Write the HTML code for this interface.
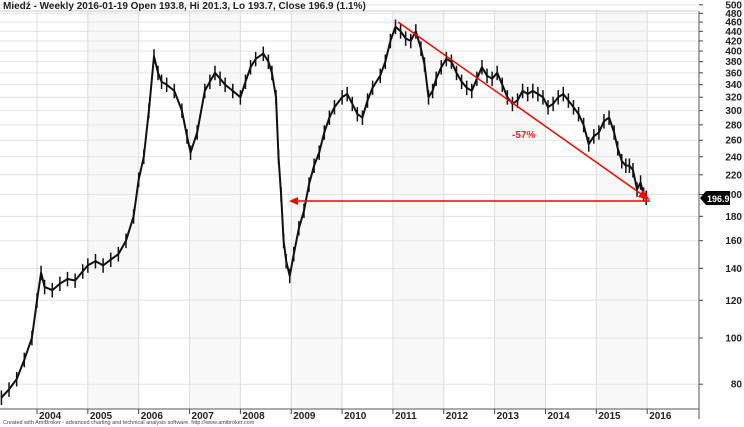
<!DOCTYPE html>
<html><head><meta charset="utf-8"><style>
body{margin:0;background:#fff;}
svg{display:block;font-family:"Liberation Sans",Arial,sans-serif;}
</style></head><body>
<svg id="c" width="744" height="427"></svg>
<script>
const tickValues=[80,100,120,140,160,180,200,220,240,260,280,300,320,340,360,380,400,420,440,460,480,500];
const years=[2004,2005,2006,2007,2008,2009,2010,2011,2012,2013,2014,2015,2016];
const times=[2003.3,2003.45,2003.6,2003.75,2003.9,2004.0,2004.08,2004.15,2004.3,2004.45,2004.6,2004.75,2004.9,2005.0,2005.15,2005.3,2005.45,2005.6,2005.75,2005.9,2006.0,2006.1,2006.2,2006.3,2006.38,2006.45,2006.55,2006.7,2006.85,2006.95,2007.02,2007.15,2007.3,2007.4,2007.5,2007.6,2007.7,2007.85,2008.0,2008.1,2008.2,2008.3,2008.45,2008.55,2008.62,2008.7,2008.75,2008.8,2008.85,2008.9,2008.97,2009.05,2009.15,2009.25,2009.35,2009.45,2009.55,2009.65,2009.75,2009.85,2010.0,2010.1,2010.2,2010.3,2010.4,2010.5,2010.6,2010.75,2010.85,2010.95,2011.05,2011.15,2011.25,2011.35,2011.45,2011.55,2011.62,2011.7,2011.78,2011.85,2011.95,2012.05,2012.15,2012.25,2012.35,2012.45,2012.55,2012.65,2012.75,2012.85,2012.95,2013.05,2013.15,2013.25,2013.35,2013.45,2013.55,2013.65,2013.75,2013.85,2013.95,2014.05,2014.15,2014.25,2014.35,2014.45,2014.55,2014.65,2014.75,2014.85,2014.95,2015.05,2015.15,2015.25,2015.35,2015.42,2015.5,2015.58,2015.65,2015.72,2015.8,2015.87,2015.93,2015.98,2016.03,2016.05];
const closes=[75,78,82,90,100,120,137,128,126,130,133,132,138,142,145,142,146,150,160,180,215,240,300,390,360,345,340,330,300,265,245,270,330,345,360,350,340,330,320,345,370,385,395,380,360,320,240,200,160,145,135,150,170,185,210,230,245,270,290,305,320,325,310,295,290,315,335,355,380,420,450,440,425,420,440,405,375,320,330,350,370,385,380,360,345,335,330,350,370,355,350,360,340,320,310,315,330,325,330,325,320,305,310,320,325,315,305,295,280,255,265,270,285,290,270,250,235,230,230,225,205,212,200,197];
const highs=closes.map(v=>v*1.035);
const lows=closes.map(v=>v*0.965);

const NS="http://www.w3.org/2000/svg";
const svg=document.getElementById('c');
function yS(v){return 338-207*Math.log(v/100);}
function xS(t){return 37+(t-2004)*50.85;}
function el(tag,attrs){const e=document.createElementNS(NS,tag);for(const k in attrs)e.setAttribute(k,attrs[k]);svg.appendChild(e);return e;}
const L=0,R=699,T=11,B=409;
for(let i=0;i<years.length;i++){
  if(years[i]%2===1){
    const b=el('rect',{x:xS(years[i]),y:T,width:Math.min(xS(years[i]+1),R)-xS(years[i]),height:B-T,fill:'#f8f8f8'});
    
    
  }
}
tickValues.forEach(v=>{
  const g=el('line',{x1:L,x2:R,y1:yS(v),y2:yS(v),stroke:'#e4e4e4','stroke-width':1});
  
  
  el('line',{x1:R,x2:R+4,y1:yS(v),y2:yS(v),stroke:'#444'});
  const t=el('text',{x:742,y:yS(v)+3.5,'font-size':10,'font-weight':'bold','text-anchor':'end',fill:'#222'});
  t.textContent=v;
  
  
});
years.forEach(y=>{
  const x=xS(y);
  const g=el('line',{x1:x,x2:x,y1:T,y2:B,stroke:'#dcdcdc'});
  
  
  el('line',{x1:x,x2:x,y1:B,y2:B+5,stroke:'#444'});
  const t=el('text',{x:x+2,y:B+10,'font-size':10,'font-weight':'bold',fill:'#222'});
  t.textContent=y;
  
  
});
el('line',{x1:R,x2:R,y1:T,y2:B+10,stroke:'#555'});
el('line',{x1:0,x2:R,y1:B,y2:B,stroke:'#555'});
el('line',{x1:0,x2:R,y1:T,y2:T,stroke:'#ccc'});
let d='';
closes.forEach((v,i)=>{d+=(i?'L':'M')+xS(times[i]).toFixed(1)+','+yS(v).toFixed(1);});
const p=el('path',{d:d,fill:'none',stroke:'#111','stroke-width':2,'stroke-linejoin':'round'});


closes.forEach((v,i)=>{
  const w=el('line',{x1:xS(times[i]),x2:xS(times[i]),y1:yS(highs[i]),y2:yS(lows[i]),stroke:'#111','stroke-width':1.5});
  
  
});
const dg=el('line',{x1:398,y1:22,x2:644,y2:196,stroke:'#f00','stroke-width':1.5});


el('polygon',{points:'650,200 638,197 643,190',fill:'#f00'});
const hz=el('line',{x1:296,y1:201,x2:650,y2:201,stroke:'#f00','stroke-width':1.5});


el('polygon',{points:'289,201 298,197 298,205',fill:'#f00'});
const pc=el('text',{x:512,y:138,'font-size':10,fill:'#f22','font-weight':'bold'});
pc.textContent='-57%';


const tag=el('polygon',{points:'700,198 706,191 730,191 730,205 706,205',fill:'#000'});


const pt=el('text',{x:707,y:202,'font-size':9,'font-weight':'bold',fill:'#fff'});
pt.textContent='196.9';


const tt=el('text',{x:3,y:9,'font-size':10,'font-weight':'bold',fill:'#222'});
tt.textContent='Miedź - Weekly 2016-01-19 Open 193.8, Hi 201.3, Lo 193.7, Close 196.9 (1.1%)';


const ft=el('text',{x:3,y:424,'font-size':5.5,fill:'#444'});
ft.textContent='Created with AmiBroker - advanced charting and technical analysis software. http://www.amibroker.com';


</script>
</body></html>
